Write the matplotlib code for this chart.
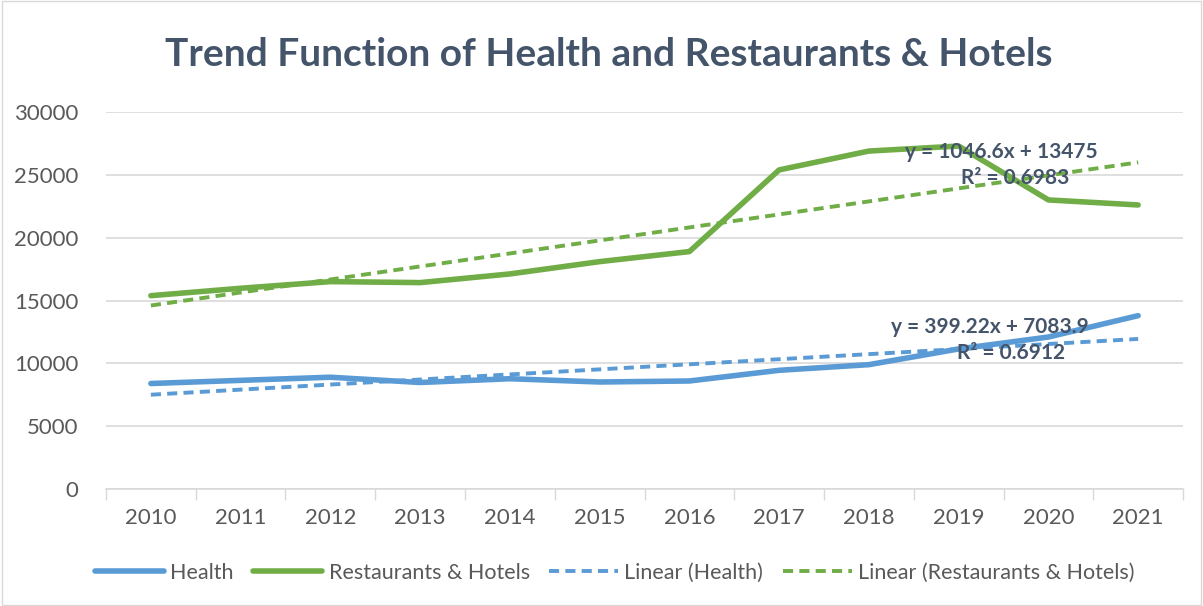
import numpy as np
import matplotlib as mpl
mpl.use('Agg')
import matplotlib.pyplot as plt
from matplotlib.patches import Rectangle

years = ['2010', '2011', '2012', '2013', '2014', '2015',
         '2016', '2017', '2018', '2019', '2020', '2021']
health = [8400, 8650, 8900, 8480, 8780, 8520, 8600, 9450, 9900, 11150, 12100, 13800]
restaurants = [15390, 15980, 16510, 16430, 17120, 18100, 18900, 25400, 26900, 27300, 23010, 22610]
health_eq = ['y = 399.22x + 7083.9', 'R² = 0.6912']
rest_eq = ['y = 1046.6x + 13475', 'R² = 0.6983']

blue = '#5B9BD5'
green = '#70AD47'
text_col = '#595959'
title_col = '#44546A'
grid_col = '#D9D9D9'

plt.rcParams['font.family'] = ['Lato', 'DejaVu Sans']

fig = plt.figure(figsize=(12.03, 6.06), dpi=100)
fig.patches.append(Rectangle((0.002, 0.002), 0.996, 0.996, transform=fig.transFigure,
                             fill=False, edgecolor=grid_col, lw=1))
ax = fig.add_axes([0.0881, 0.193, 0.8953, 0.622])

x = np.arange(1, len(years) + 1)

# trend lines fitted through the data
kh = np.polyfit(x, health, 1)
kr = np.polyfit(x, restaurants, 1)

ax.plot(x, health, color=blue, lw=4, solid_capstyle='round', label='Health', zorder=3)
ax.plot(x, restaurants, color=green, lw=4, solid_capstyle='round',
        label='Restaurants & Hotels', zorder=3)
ax.plot(x, np.polyval(kh, x), color=blue, lw=2.8, dashes=(2.6, 1.6), label='Linear (Health)', zorder=2)
ax.plot(x, np.polyval(kr, x), color=green, lw=2.8, dashes=(2.6, 1.6),
        label='Linear (Restaurants & Hotels)', zorder=2)

eq_style = dict(ha='center', va='center', fontsize=15, fontweight='bold',
                color=title_col, zorder=4)
ax.text(10.48, 26830, rest_eq[0], **eq_style)
ax.text(10.63, 24760, rest_eq[1], **eq_style)
ax.text(10.35, 12900, health_eq[0], **eq_style)
ax.text(10.58, 10830, health_eq[1], **eq_style)

ax.set_xlim(0.5, len(years) + 0.5)
ax.set_ylim(0, 30000)
ax.set_yticks(np.arange(0, 30001, 5000))
ax.set_xticks(x)
ax.set_xticklabels(years)
ax.set_xticks(np.arange(0.5, len(years) + 1, 1), minor=True)
ax.tick_params(axis='x', which='major', length=0, pad=14, labelsize=16, labelcolor=text_col)
ax.tick_params(axis='x', which='minor', length=8, color=grid_col, width=1)
ax.tick_params(axis='y', length=0, pad=20, labelsize=16, labelcolor=text_col)
ax.grid(axis='y', color=grid_col, lw=1.2)
ax.set_axisbelow(True)
for s in ['left', 'right', 'top']:
    ax.spines[s].set_visible(False)
ax.spines['bottom'].set_color(grid_col)
ax.spines['bottom'].set_linewidth(1.2)

fig.text(0.506, 0.91, 'Trend Function of Health and Restaurants & Hotels', ha='center',
         va='center', fontsize=28, fontweight='bold', color=title_col)

fig.legend(loc='center', bbox_to_anchor=(0.511, 0.055), ncol=4, frameon=False,
           fontsize=15.5, labelcolor=text_col, handlelength=3.2, columnspacing=0.9,
           handletextpad=0.3)

fig.savefig('out.png', dpi=100)
